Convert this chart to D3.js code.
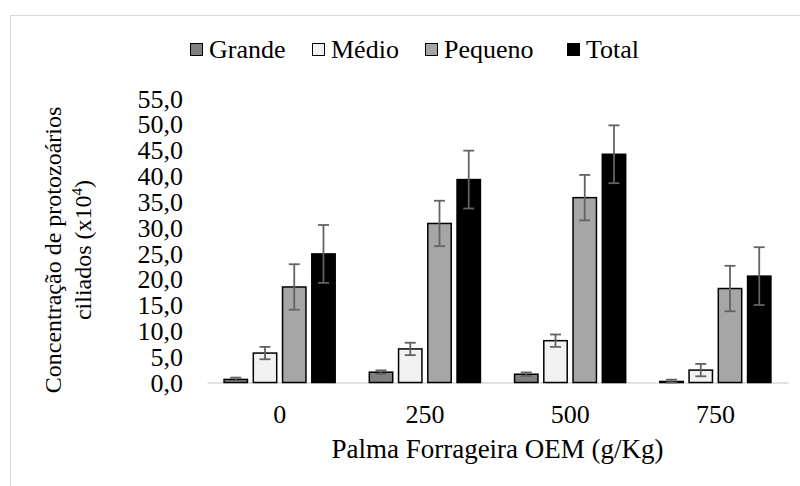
<!DOCTYPE html>
<html>
<head>
<meta charset="utf-8">
<script src="https://cdn.jsdelivr.net/npm/d3@7"></script>
</head>
<body style="margin:0;background:#fff">
<div class="chart"></div>
<script>
// data
var categories = ["0", "250", "500", "750"];
var series = ["Grande", "Médio", "Pequeno", "Total"];
var grande = [0.6, 2.0, 1.6, 0.2];
var medio = [5.7, 6.5, 8.1, 2.4];
var pequeno = [18.5, 30.8, 35.8, 18.2];
var total = [24.9, 39.3, 44.2, 20.6];
var errGrande = [0.35, 0.35, 0.35, 0.35];
var errMedio = [1.2, 1.2, 1.2, 1.2];
var errPequeno = [4.4, 4.4, 4.4, 4.4];
var errTotal = [5.6, 5.6, 5.6, 5.6];
var yTicks = [0, 5, 10, 15, 20, 25, 30, 35, 40, 45, 50, 55];

var values = [grande, medio, pequeno, total];
var errors = [errGrande, errMedio, errPequeno, errTotal];
var colors = ["#808080", "#f2f2f2", "#a6a6a6", "#000000"];

var width = 800, height = 486;
var fontSize = 26;
var serif = "Liberation Serif";

var svg = d3.select("div.chart")
    .append("svg")
    .attr("width", width)
    .attr("height", height)
    .attr("font-family", serif);

// chart frame
svg.append("rect")
    .attr("x", 10.5).attr("y", 15.5)
    .attr("width", 820).attr("height", 500)
    .attr("fill", "#fff")
    .attr("stroke", "#d9d9d9");

var x0 = d3.scaleBand()
    .domain(categories)
    .range([207, 788])
    .paddingInner(0.235)
    .paddingOuter(0.1175);

var x1 = d3.scaleBand()
    .domain(series)
    .range([0, x0.bandwidth()])
    .paddingInner(0.2);

var y = d3.scaleLinear()
    .domain([0, 55])
    .range([382.5, 98.5]);

var locale = d3.formatLocale({decimal: ",", thousands: ".", grouping: [3], currency: ["", ""]});
var fmt = locale.format(".1f");

// y axis (labels only)
var yAxis = svg.append("g")
    .attr("transform", "translate(183,0)")
    .call(d3.axisLeft(y).tickValues(yTicks).tickFormat(fmt).tickSize(0).tickPadding(0));
yAxis.attr("font-family", serif).attr("font-size", fontSize);
yAxis.select(".domain").remove();
yAxis.selectAll("text")
    .attr("font-family", serif)
    .attr("font-size", fontSize)
    .attr("fill", "#000")
    .attr("dy", "0.33em");

// x axis
var xAxis = svg.append("g")
    .attr("transform", "translate(0," + y(0) + ")")
    .call(d3.axisBottom(x0).tickSize(0).tickSizeOuter(0).tickPadding(0));
xAxis.attr("font-family", serif).attr("font-size", fontSize);
xAxis.select(".domain").attr("stroke", "#d9d9d9").attr("stroke-width", 1.5);
xAxis.selectAll("text")
    .attr("font-family", serif)
    .attr("font-size", fontSize)
    .attr("fill", "#000")
    .attr("y", 40)
    .attr("dy", 0);

// bars
var groups = svg.selectAll("g.group")
    .data(categories)
    .enter().append("g")
    .attr("class", "group")
    .attr("transform", function (d) { return "translate(" + x0(d) + ",0)"; });

groups.selectAll("rect")
    .data(function (d, i) {
        return series.map(function (s, j) {
            return {s: s, v: values[j][i], e: errors[j][i], c: colors[j]};
        });
    })
    .enter().append("rect")
    .attr("x", function (d) { return x1(d.s); })
    .attr("y", function (d) { return y(d.v); })
    .attr("width", x1.bandwidth())
    .attr("height", function (d) { return y(0) - y(d.v); })
    .attr("fill", function (d) { return d.c; })
    .attr("stroke", "#000")
    .attr("stroke-width", 1.5);

// error bars
var errG = groups.selectAll("g.err")
    .data(function (d, i) {
        return series.map(function (s, j) {
            return {s: s, v: values[j][i], e: errors[j][i]};
        });
    })
    .enter().append("g")
    .attr("class", "err")
    .attr("stroke", "#636363")
    .attr("stroke-width", 1.8);

errG.append("line")
    .attr("x1", function (d) { return x1(d.s) + x1.bandwidth() / 2; })
    .attr("x2", function (d) { return x1(d.s) + x1.bandwidth() / 2; })
    .attr("y1", function (d) { return y(d.v + d.e); })
    .attr("y2", function (d) { return y(Math.max(0, d.v - d.e)); });
errG.append("line")
    .attr("x1", function (d) { return x1(d.s) + x1.bandwidth() / 2 - 5.5; })
    .attr("x2", function (d) { return x1(d.s) + x1.bandwidth() / 2 + 5.5; })
    .attr("y1", function (d) { return y(d.v + d.e); })
    .attr("y2", function (d) { return y(d.v + d.e); });
errG.append("line")
    .attr("x1", function (d) { return x1(d.s) + x1.bandwidth() / 2 - 5.5; })
    .attr("x2", function (d) { return x1(d.s) + x1.bandwidth() / 2 + 5.5; })
    .attr("y1", function (d) { return y(Math.max(0, d.v - d.e)); })
    .attr("y2", function (d) { return y(Math.max(0, d.v - d.e)); });

// legend
var legendX = [190, 312, 425, 567];
var legend = svg.selectAll("g.legend")
    .data(series)
    .enter().append("g")
    .attr("class", "legend")
    .attr("transform", function (d, i) { return "translate(" + legendX[i] + ",43)"; });
legend.append("rect")
    .attr("width", 12).attr("height", 12)
    .attr("x", 0.5).attr("y", 0.5)
    .attr("fill", function (d, i) { return colors[i]; })
    .attr("stroke", "#000")
    .attr("stroke-width", 1);
legend.append("text")
    .attr("x", 19)
    .attr("y", 15)
    .attr("font-family", serif)
    .attr("font-size", fontSize)
    .text(function (d) { return d; });

// axis titles
svg.append("text")
    .attr("x", (207 + 788) / 2)
    .attr("y", 458)
    .attr("text-anchor", "middle")
    .attr("font-family", serif)
    .attr("font-size", 27)
    .text("Palma Forrageira OEM (g/Kg)");

var yTitle = svg.append("text")
    .attr("transform", "translate(61,250) rotate(-90)")
    .attr("text-anchor", "middle")
    .attr("font-family", serif)
    .attr("font-size", 24);
yTitle.append("tspan")
    .attr("x", 0).attr("y", 0)
    .text("Concentração de protozoários");
yTitle.append("tspan")
    .attr("x", 0).attr("y", 30)
    .text("ciliados (x10");
yTitle.append("tspan")
    .attr("dy", -9)
    .attr("font-size", 15)
    .text("4");
yTitle.append("tspan")
    .attr("dy", 9)
    .text(")");
</script>
</body>
</html>
